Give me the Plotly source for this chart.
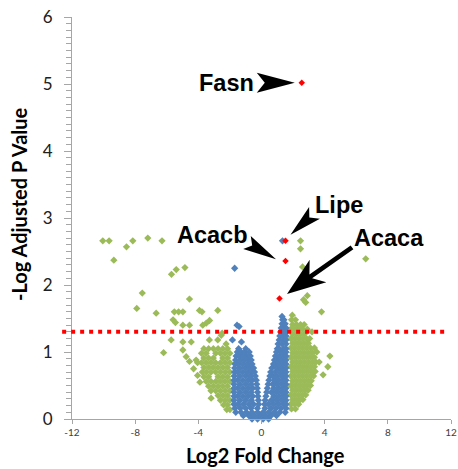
import plotly.graph_objects as go

# ---------------- data ----------------
x_range = [-12, 12]
y_range = [0, 6]
x_ticks = [-12, -8, -4, 0, 4, 8, 12]
y_ticks = [0, 1, 2, 3, 4, 5, 6]
threshold = 1.301  # -log10(0.05)

# not-significant / small fold change (blue), rows of (y, [x...])
blue_rows = [
    (0.00, [-0.6, -0.25, 0.1, 0.45]),
    (0.05, [-1.15, -0.8, -0.45, -0.1, 0.25, 0.6, 0.95]),
    (0.10, [-1.63, -1.3, -0.95, -0.6, -0.25, 0.1, 0.45, 0.8, 1.15, 1.5]),
    (0.16, [-1.68, -1.34, -1.0, -0.66, -0.26, 0.22, 0.6, 0.92, 1.24, 1.55]),
    (0.22, [-1.74, -1.5, -1.15, -0.8, -0.5, -0.18, 0.2, 0.44, 0.76, 1.08, 1.4, 1.55]),
    (0.28, [-1.74, -1.36, -1.0, -0.64, -0.2, 0.23, 0.62, 0.94, 1.26, 1.55]),
    (0.34, [-1.74, -1.52, -1.18, -0.84, -0.55, -0.23, 0.28, 0.78, 1.1, 1.4, 1.55]),
    (0.40, [-1.74, -1.36, -1.0, -0.66, -0.25, 0.33, 0.62, 0.94, 1.26, 1.55]),
    (0.46, [-1.74, -1.52, -1.18, -0.84, -0.55, -0.27, 0.37, 0.78, 1.1, 1.4, 1.55]),
    (0.52, [-1.74, -1.36, -1.0, -0.66, -0.3, 0.42, 0.7, 0.96, 1.26, 1.55]),
    (0.58, [-1.74, -1.52, -1.18, -0.84, -0.58, -0.33, 0.47, 0.82, 1.1, 1.4, 1.55]),
    (0.64, [-1.73, -1.36, -1.0, -0.7, -0.39, 0.53, 0.7, 0.96, 1.26, 1.55]),
    (0.70, [-1.71, -1.52, -1.18, -0.86, -0.6, -0.44, 0.58, 0.86, 1.12, 1.4, 1.55]),
    (0.76, [-1.7, -1.36, -1.02, -0.75, -0.5, 0.65, 0.98, 1.26, 1.55]),
    (0.82, [-1.68, -1.5, -1.18, -0.88, -0.6, 0.76, 0.86, 1.12, 1.4, 1.55]),
    (0.88, [-1.64, -1.35, -1.05, -0.8, -0.65, 0.82, 1.0, 1.26, 1.55]),
    (0.94, [-1.61, -1.42, -1.18, -0.94, -0.71, 0.88, 1.12, 1.4, 1.55]),
    (1.00, [-1.53, -1.3, -1.05, -0.78, 0.95, 1.26, 1.55]),
    (1.05, [-1.45, -1.0, 1.0, 1.12, 1.4, 1.55]),
    (1.12, [1.05, 1.3, 1.55]),
    (1.18, [1.12, 1.4, 1.55]),
    (1.24, [1.16, 1.3, 1.55]),
    (1.30, [1.21, 1.45, 1.55]),
    (1.36, [1.25, 1.4, 1.55]),
    (1.42, [1.3, 1.5]),
    (1.48, [1.34, 1.42]),
    (1.53, [1.3]),
]
blue_extra_x = [-1.84, -1.27, -1.55, -1.42, -1.7, 1.33]
blue_extra_y = [1.18, 1.15, 1.40, 1.38, 2.25, 2.66]

# large fold change (green), left dense block
green_left_rows = [
    (1.05, [-2.15, -2.45, -2.75, -3.05, -3.35, -3.65]),
    (0.98, [-2.0, -2.3, -2.6, -2.9, -3.5, -3.8]),
    (0.91, [-2.15, -2.45, -3.05, -3.35, -3.65]),
    (0.84, [-2.0, -2.3, -2.6, -2.9, -3.2, -3.5, -3.8, -4.05]),
    (0.77, [-2.15, -2.45, -2.75, -3.05, -3.35, -3.65]),
    (0.70, [-2.0, -2.3, -2.6, -2.9, -3.2, -3.5, -3.75]),
    (0.63, [-2.15, -2.45, -2.75, -3.35, -3.65]),
    (0.56, [-2.0, -2.3, -2.6, -2.9, -3.2, -3.5]),
    (0.49, [-2.15, -2.45, -2.75, -3.05, -3.35]),
    (0.42, [-2.0, -2.3, -2.6, -2.9, -3.2]),
    (0.35, [-2.15, -2.45, -2.75]),
    (0.28, [-2.0, -2.3, -2.6]),
    (0.21, [-2.15, -2.4]),
    (0.14, [-2.0, -2.2]),
]
# right dense block
green_right_rows = [
    (1.55, [1.95]),
    (1.48, [1.9, 2.15]),
    (1.41, [1.97, 2.22, 2.47, 2.7]),
    (1.34, [1.85, 2.1, 2.35, 2.6, 2.9]),
    (1.27, [1.97, 2.22, 2.47, 2.72]),
    (1.20, [1.85, 2.1, 2.35, 2.6, 2.85, 3.05]),
    (1.13, [1.97, 2.22, 2.47, 2.72, 2.97]),
    (1.06, [1.85, 2.1, 2.35, 2.6, 2.85, 3.1, 3.35]),
    (0.99, [1.97, 2.22, 2.47, 2.72, 2.97, 3.22]),
    (0.92, [1.85, 2.1, 2.35, 2.6, 2.85, 3.1, 3.35]),
    (0.85, [1.97, 2.22, 2.47, 2.72, 2.97, 3.22, 3.45, 3.65]),
    (0.78, [1.85, 2.1, 2.35, 2.6, 2.85, 3.1, 3.35]),
    (0.71, [1.97, 2.22, 2.47, 2.72, 2.97, 3.22, 3.4]),
    (0.64, [1.85, 2.1, 2.35, 2.6, 2.85, 3.1, 3.3]),
    (0.57, [1.97, 2.22, 2.47, 2.72, 2.97, 3.15]),
    (0.50, [1.85, 2.1, 2.35, 2.6, 2.85, 3.1]),
    (0.43, [1.97, 2.22, 2.47, 2.72, 2.95]),
    (0.36, [1.85, 2.1, 2.35, 2.6, 2.8]),
    (0.29, [1.97, 2.22, 2.47, 2.62]),
    (0.22, [1.85, 2.1, 2.35]),
    (0.15, [1.9, 2.15]),
]
# scattered green points
green_extra_x = [-10.05, -9.65, -9.35, -8.55, -8.15, -7.2, -6.3, -5.7, -5.4, -4.85,
                 -7.55, -4.56, -7.9, -6.67, -5.52, -5.25, -4.98, -3.93, -3.77, -2.77,
                 -5.6, -5.45, -4.98, -4.56, -3.72, -3.5, -3.29, -2.49,
                 -5.72, -4.98, -4.45, -6.2, -4.98, -4.77, -4.56, -4.14, -3.3, -2.77,
                 -2.55, -2.24, -4.3, -4.05, -3.9, -3.19,
                 2.47, 2.47, 2.6, 6.6, 2.9, 2.66, 2.8, 3.8, 4.33, 4.2, 3.9, 3.5, 3.2]
green_extra_y = [2.66, 2.66, 2.37, 2.57, 2.66, 2.7, 2.66, 2.16, 2.23, 2.26,
                 1.88, 1.79, 1.65, 1.58, 1.6, 1.6, 1.6, 1.62, 1.6, 1.62,
                 1.48, 1.44, 1.4, 1.4, 1.4, 1.43, 1.47, 1.28,
                 1.18, 1.15, 1.15, 0.99, 1.03, 0.93, 0.86, 0.88, 1.18, 1.18,
                 1.25, 1.12, 0.75, 0.65, 0.55, 0.31,
                 2.66, 2.54, 2.27, 2.39, 1.84, 1.78, 1.74, 1.6, 0.94, 0.78, 0.66, 1.0, 1.3]

# highlighted genes (red)
red_genes = ["Fasn", "Lipe", "Acacb", "Acaca"]
red_x = [2.55, 1.52, 1.52, 1.14]
red_y = [5.02, 2.66, 2.36, 1.80]

x_title = "Log2 Fold Change"
y_title = "-Log Adjusted P Value"

# ---------------- helpers ----------------
W, H = 458, 469
PL, PT, PW, PH = 72, 17, 379, 402  # plot area in pixels


def to_px(x, y):
    return (PL + (x - x_range[0]) / (x_range[1] - x_range[0]) * PW,
            PT + (y_range[1] - y) / (y_range[1] - y_range[0]) * PH)


def to_data(px, py):
    return (x_range[0] + (px - PL) / PW * (x_range[1] - x_range[0]),
            y_range[1] - (py - PT) / PH * (y_range[1] - y_range[0]))


def paper(px, py):
    return (px - PL) / PW, (PT + PH - py) / PH


def flatten(rows):
    xs, ys = [], []
    for y, row in rows:
        for x in row:
            xs.append(x)
            ys.append(y)
    return xs, ys


def arrow_path(px0, py0, tip, back, w, notch, shaft=0.0, tail=None):
    tx, ty = px0 + tip[0], py0 + tip[1]
    bx, by = px0 + back[0], py0 + back[1]
    dx, dy = tx - bx, ty - by
    L = (dx * dx + dy * dy) ** 0.5
    ux, uy = dx / L, dy / L
    vx, vy = -uy, ux
    pts = [(tx, ty), (bx + vx * w, by + vy * w)]
    nx, ny = bx + ux * notch, by + uy * notch
    if tail is None:
        pts.append((nx, ny))
    else:
        lx, ly = px0 + tail[0], py0 + tail[1]
        pts += [(nx + vx * shaft, ny + vy * shaft), (lx + vx * shaft, ly + vy * shaft),
                (lx - vx * shaft, ly - vy * shaft), (nx - vx * shaft, ny - vy * shaft)]
    pts.append((bx - vx * w, by - vy * w))
    d = []
    for i, (px, py) in enumerate(pts):
        x, y = to_data(px, py)
        d.append(("M" if i == 0 else "L") + f"{x:.4f},{y:.4f}")
    return " ".join(d) + " Z"


# ---------------- figure ----------------
gx1, gy1 = flatten(green_left_rows)
gx2, gy2 = flatten(green_right_rows)
bx, by = flatten(blue_rows)

fig = go.Figure()
fig.add_trace(go.Scatter(
    x=gx1 + gx2 + green_extra_x, y=gy1 + gy2 + green_extra_y, mode="markers",
    marker=dict(symbol="diamond", size=5.6, color="#9BBB59", line=dict(width=0)),
    cliponaxis=False, hoverinfo="skip"))
fig.add_trace(go.Scatter(
    x=bx + blue_extra_x, y=by + blue_extra_y, mode="markers",
    marker=dict(symbol="diamond", size=5.6, color="#4F81BD", line=dict(width=0)),
    cliponaxis=False, hoverinfo="skip"))
fig.add_trace(go.Scatter(
    x=red_x, y=red_y, mode="markers", text=red_genes,
    marker=dict(symbol="diamond", size=5, color="#FF0000", line=dict(width=0)),
    cliponaxis=False))

# threshold line
fig.add_shape(type="line", xref="paper", yref="y", x0=-0.026, x1=0.995,
              y0=threshold, y1=threshold,
              line=dict(color="#FF0000", width=4, dash="4px,5px"))

# annotation geometry: pixel offsets relative to each gene's point
label_shift = {"Fasn": (-75, 0), "Lipe": (53.5, 36), "Acacb": (-73, 26), "Acaca": (109.5, 60)}
arrows = {
    "Fasn": dict(tip=(-7, 0), back=(-45, 0), w=10, notch=8),
    "Lipe": dict(tip=(5, -6), back=(29, -28), w=8, notch=7),
    "Acacb": dict(tip=(-9.5, -1.6), back=(-38.5, -18.4), w=7.5, notch=6),
    "Acaca": dict(tip=(7.5, -4.4), back=(38.5, -27.4), w=14, notch=9, shaft=2.3, tail=(72.5, -51)),
}
for g, x, y in zip(red_genes, red_x, red_y):
    sx, sy = label_shift[g]
    fig.add_annotation(x=x, y=y, xref="x", yref="y", text=f"<b>{g}</b>", showarrow=False,
                       xshift=sx, yshift=sy,
                       font=dict(family="Liberation Sans, Arial", size=23.5, color="black"))
    px0, py0 = to_px(x, y)
    a = arrows[g]
    fig.add_shape(type="path", xref="x", yref="y",
                  path=arrow_path(px0, py0, a["tip"], a["back"], a["w"], a["notch"],
                                  a.get("shaft", 0.0), a.get("tail")),
                  fillcolor="black", line=dict(width=0))

# axis titles as paper annotations (fixed positions)
xt = paper(265, 469)
fig.add_annotation(x=xt[0], y=xt[1], xref="paper", yref="paper", text=f"<b>{x_title}</b>",
                   showarrow=False, xanchor="center", yanchor="bottom",
                   font=dict(family="Lato", size=20, color="black"))
yt = paper(19, 204)
fig.add_annotation(x=yt[0], y=yt[1], xref="paper", yref="paper", text=f"<b>{y_title}</b>",
                   showarrow=False, xanchor="center", yanchor="middle", textangle=-90,
                   font=dict(family="Lato", size=20, color="black"))

axis_grey = "#A6A6A6"
fig.update_xaxes(range=x_range, tickvals=x_ticks, ticktext=[str(t) for t in x_ticks],
                 showline=True, linecolor=axis_grey, linewidth=1, ticks="outside",
                 ticklen=4, tickcolor=axis_grey, showgrid=False, zeroline=False,
                 automargin=False,
                 tickfont=dict(family="Lato", size=10, color="#404040"))
fig.update_yaxes(range=y_range, tickvals=y_ticks, ticktext=[str(t) for t in y_ticks],
                 showline=True, linecolor=axis_grey, linewidth=1, ticks="outside",
                 ticklen=7, tickcolor=axis_grey, showgrid=False, zeroline=False,
                 automargin=False,
                 minor=dict(dtick=0.1, ticks="outside", ticklen=5, tickcolor=axis_grey,
                            showgrid=False),
                 ticklabelstandoff=8,
                 tickfont=dict(family="Lato", size=17, color="#202020"))
fig.update_layout(width=W, height=H,
                  margin=dict(l=PL, r=W - PL - PW, t=PT, b=H - PT - PH, autoexpand=False),
                  plot_bgcolor="white", paper_bgcolor="white", showlegend=False)

fig.write_html("out.html", config={"displayModeBar": False},
               post_script="document.body.style.margin='0px';document.body.style.overflow='hidden';")
